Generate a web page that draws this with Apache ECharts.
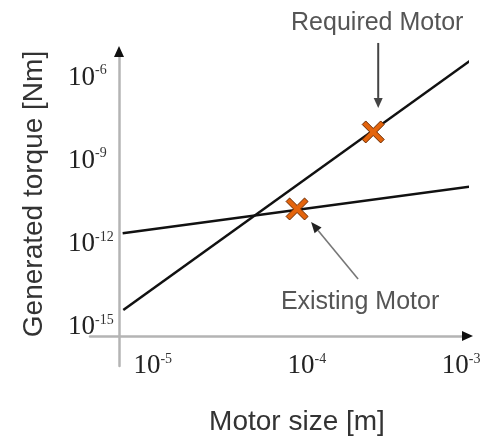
<!DOCTYPE html>
<html>
<head>
<meta charset="utf-8">
<script src="https://cdn.jsdelivr.net/npm/echarts@6/dist/echarts.min.js"></script>
<style>
  html, body { margin: 0; padding: 0; background: #ffffff; }
  #chart { width: 484px; height: 440px; }
</style>
</head>
<body>
<div id="chart"></div>
<script>
// Generated torque against motor size, both on log scales.
// Endpoints of the two scaling lines [m] / [Nm]
const requiredLineSize = [6.44e-6, 1.16e-3];
const requiredLineTorque = [4.14e-15, 4.29e-6];
const existingLineSize = [6.38e-6, 1.37e-3];
const existingLineTorque = [2.42e-12, 1.33e-10];

// Operating points of the two motors
const motorNames = ['Required Motor', 'Existing Motor'];
const motorSize = [2.69e-4, 8.63e-5];
const motorTorque = [1.09e-8, 1.82e-11];

// Labelled decades
const xTickValues = [1e-5, 1e-4, 1e-3];
const yTickValues = [1e-15, 1e-12, 1e-9, 1e-6];

const xTitle = 'Motor size [m]';
const yTitle = 'Generated torque [Nm]';

const pairs = (xs, ys) => xs.map((x, i) => [x, ys[i]]);

const powerLabel = v => '{b|10}{s|' + Math.round(Math.log10(v)) + '}';
const labelRich = {
  b: { fontFamily: 'Liberation Serif', fontSize: 27, color: '#222', lineHeight: 28 },
  s: { fontFamily: 'Liberation Serif', fontSize: 14, color: '#333', verticalAlign: 'top', lineHeight: 28, padding: [0, 0, 12, 0] }
};

const axisColor = '#b4b4b4';
const crossShape = 'path://M0,1.6L1.6,0L5,3.4L8.4,0L10,1.6L6.6,5L10,8.4L8.4,10L5,6.6L1.6,10L0,8.4L3.4,5Z';

const chart = echarts.init(document.getElementById('chart'), null, { renderer: 'canvas' });

chart.setOption({
  animation: false,
  backgroundColor: '#ffffff',
  grid: { left: 90, right: 17, top: 52, bottom: 74, containLabel: false },
  xAxis: {
    type: 'log',
    min: Math.pow(10, -5.407),
    max: Math.pow(10, -2.962),
    position: 'bottom',
    offset: -30,
    axisLine: { show: true, lineStyle: { color: axisColor, width: 2.5 } },
    axisTick: { show: false },
    splitLine: { show: false },
    minorTick: { show: false },
    axisLabel: {
      customValues: xTickValues,
      formatter: powerLabel,
      rich: labelRich,
      margin: 16
    }
  },
  yAxis: {
    type: 'log',
    min: Math.pow(10, -16.403),
    max: Math.pow(10, -5.079),
    position: 'left',
    offset: -29,
    axisLine: { show: true, lineStyle: { color: axisColor, width: 2.5 } },
    axisTick: { show: false },
    splitLine: { show: false },
    minorTick: { show: false },
    axisLabel: {
      customValues: yTickValues,
      formatter: powerLabel,
      rich: labelRich,
      align: 'left',
      margin: 51
    }
  },
  series: [
    {
      name: 'Required scaling',
      type: 'line',
      data: pairs(requiredLineSize, requiredLineTorque),
      showSymbol: false,
      clip: false,
      lineStyle: { color: '#111', width: 2.5 },
      z: 3
    },
    {
      name: 'Existing scaling',
      type: 'line',
      data: pairs(existingLineSize, existingLineTorque),
      showSymbol: false,
      clip: false,
      lineStyle: { color: '#111', width: 2.5 },
      z: 3
    },
    {
      name: 'Motors',
      type: 'scatter',
      data: pairs(motorSize, motorTorque).map((p, i) => ({ name: motorNames[i], value: p })),
      symbol: crossShape,
      symbolSize: 22,
      clip: false,
      itemStyle: { color: '#e4640c', borderColor: '#6b2a00', borderWidth: 1, opacity: 1 },
      z: 5
    }
  ]
});

// Arrow made from a shaft and a filled head
function arrow(x1, y1, x2, y2, color, width, headLen, headW, headColor) {
  const dx = x2 - x1, dy = y2 - y1;
  const len = Math.hypot(dx, dy);
  const ux = dx / len, uy = dy / len;
  const bx = x2 - ux * headLen, by = y2 - uy * headLen;
  const px = -uy * headW / 2, py = ux * headW / 2;
  return [
    { type: 'line', shape: { x1: x1, y1: y1, x2: bx, y2: by }, style: { stroke: color, lineWidth: width }, z: 10 },
    { type: 'polygon', shape: { points: [[x2, y2], [bx + px, by + py], [bx - px, by - py]] }, style: { fill: headColor || color }, z: 10 }
  ];
}

const req = chart.convertToPixel({ seriesIndex: 2 }, [motorSize[0], motorTorque[0]]);
const ext = chart.convertToPixel({ seriesIndex: 2 }, [motorSize[1], motorTorque[1]]);

// Axis ends: the two axes cross at the origin
const origin = chart.convertToPixel({ gridIndex: 0 }, [Math.pow(10, -5.407), Math.pow(10, -16.403)]);
const yAxisX = origin[0] + 29;
const xAxisY = origin[1] - 30;
const topEnd = chart.convertToPixel({ gridIndex: 0 }, [Math.pow(10, -5.407), Math.pow(10, -5.079)])[1];
const rightEnd = chart.convertToPixel({ gridIndex: 0 }, [Math.pow(10, -2.962), Math.pow(10, -16.403)])[0];

const annotationFont = { fontFamily: 'Liberation Sans', fontSize: 25, fill: '#555' };
const titleFont = { fontFamily: 'Liberation Sans', fontSize: 28, fill: '#333' };

const elements = []
  .concat([
    { type: 'polygon', shape: { points: [[yAxisX, topEnd - 6], [yAxisX - 5, topEnd + 5], [yAxisX + 5, topEnd + 5]] }, style: { fill: '#111' }, z: 10 },
    { type: 'polygon', shape: { points: [[rightEnd + 6, xAxisY], [rightEnd - 5, xAxisY - 5], [rightEnd - 5, xAxisY + 5]] }, style: { fill: '#111' }, z: 10 }
  ])
  .concat(arrow(req[0] + 5, req[1] - 89, req[0] + 5, req[1] - 24, '#444', 2, 10, 9))
  .concat(arrow(ext[0] + 61, ext[1] + 70, ext[0] + 14, ext[1] + 13, '#777', 1.6, 11, 9, '#222'))
  .concat([
    { type: 'text', x: req[0] + 4, y: req[1] - 109, style: Object.assign({ text: motorNames[0], align: 'center', verticalAlign: 'middle' }, annotationFont), z: 10 },
    { type: 'text', x: ext[0] + 63, y: ext[1] + 93, style: Object.assign({ text: motorNames[1], align: 'center', verticalAlign: 'middle' }, annotationFont), z: 10 },
    { type: 'text', x: 297, y: 422, style: Object.assign({ text: xTitle, align: 'center', verticalAlign: 'middle' }, titleFont), z: 10 },
    { type: 'text', x: 34, y: 194, rotation: Math.PI / 2, style: Object.assign({ text: yTitle, align: 'center', verticalAlign: 'middle' }, titleFont), z: 10 }
  ]);

chart.setOption({ graphic: { elements: elements } });
</script>
</body>
</html>
